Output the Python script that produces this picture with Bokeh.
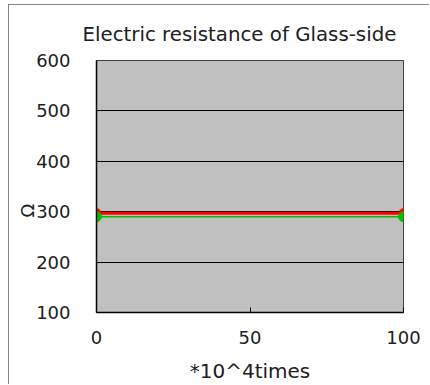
from bokeh.plotting import figure
from bokeh.models import Range1d, FixedTicker, Title
from bokeh.embed import file_html
from bokeh.resources import INLINE

cycles = [0, 100]
series_red = [297, 297]
series_green = [290, 290]
x_ticks = [0, 50, 100]
y_ticks = [100, 200, 300, 400, 500, 600]

FONT = "DejaVu Sans"

p = figure(width=421, height=380, output_backend="svg", toolbar_location=None,
           x_range=Range1d(0, 100), y_range=Range1d(100, 600),
           min_border_left=87, min_border_right=27, min_border_top=55, min_border_bottom=71)
p.styles = {"border-left": "1px solid #888888", "border-top": "1px solid #888888",
            "margin-left": "8px", "margin-top": "4px"}

p.background_fill_color = "#c0c0c0"
p.border_fill_color = "white"
p.outline_line_color = "#404040"
p.outline_line_width = 1

p.title.text = "Electric resistance of Glass-side"
p.title.align = "left"
p.title.offset = -14
p.title.text_font = FONT
p.title.text_font_size = "19.8px"
p.title.text_font_style = "normal"
p.title.text_color = "#202020"
p.title.standoff = 30

p.xaxis.ticker = FixedTicker(ticks=x_ticks)
p.yaxis.ticker = FixedTicker(ticks=y_ticks)
p.xgrid.grid_line_color = None
p.ygrid.grid_line_color = "black"
p.ygrid.grid_line_width = 1

for ax in (p.xaxis[0], p.yaxis[0]):
    ax.axis_line_color = "black"
    ax.axis_line_width = 1.5
    ax.major_label_text_font = FONT
    ax.major_label_text_font_size = "18px"
    ax.major_label_text_color = "#202020"
    ax.minor_tick_line_color = None
    ax.axis_label_text_font = FONT
    ax.axis_label_text_font_size = "20px"
    ax.axis_label_text_font_style = "normal"
    ax.axis_label_text_color = "#202020"

p.xaxis.major_tick_in = 5
p.xaxis.major_tick_out = 0
p.xaxis.major_tick_line_color = "black"
p.xaxis.major_label_standoff = 18
p.xaxis.axis_label = "*10^4times"
p.xaxis.axis_label_standoff = 12

p.yaxis.major_tick_in = 0
p.yaxis.major_tick_out = 0
p.yaxis.major_label_standoff = 26

p.line(cycles, series_red, line_color="#ff0000", line_width=3)
p.scatter(cycles, series_red, size=9, fill_color="#ff0000", line_color="#ff0000")
p.line(cycles, series_green, line_color="#00c000", line_width=1.5)
p.scatter(cycles, series_green, size=10, fill_color="#00c000", line_color="#00c000")

omega = Title(text="Ω", align="left", offset=95, text_font=FONT,
              text_font_size="18px", text_font_style="normal", text_color="#202020",
              standoff=-8)
p.add_layout(omega, "left")

open("out.html", "w").write(file_html(p, INLINE))
